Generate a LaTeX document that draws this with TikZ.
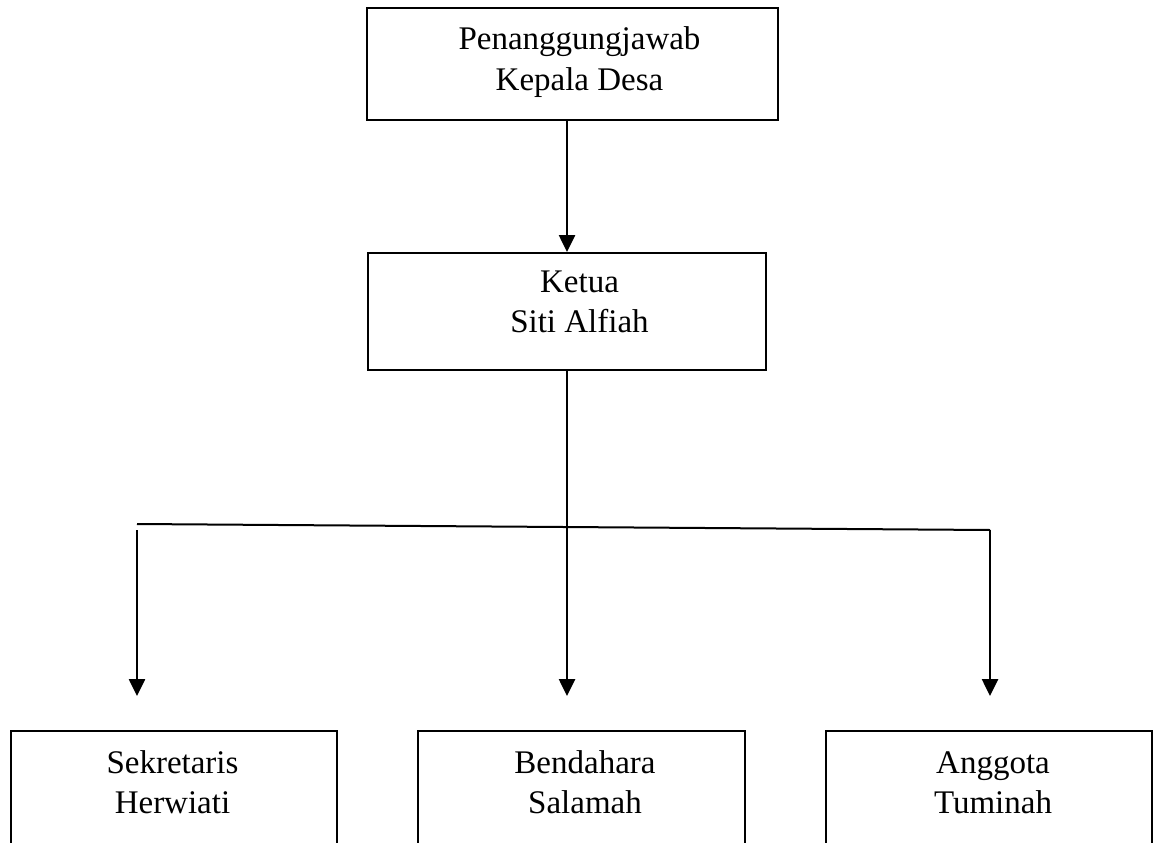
\documentclass[tikz,border=0pt]{standalone}
\usepackage{fontspec}
\setmainfont{Liberation Serif}
\usetikzlibrary{arrows.meta}
\begin{document}
\begin{tikzpicture}[x=1pt,y=-1pt,
    kotak/.style={draw, line width=2pt, inner sep=0pt},
    teks/.style={align=center, anchor=base, inner sep=0pt, font=\fontsize{33}{40}\selectfont},
    panah/.style={line width=2.6pt, -{Triangle[length=17pt,width=16pt]}}]
    \useasboundingbox (0,0) rectangle (1162,843);
    \clip (0,0) rectangle (1162,843);
    % Kotak atas dan ketua
    \node[kotak, minimum width=411pt, minimum height=112pt] (kades) at (572.5,64) {};
    \node[teks] (kades-t) at (579.5,90) {Penanggungjawab\\Kepala Desa};
    \node[kotak, minimum width=398pt, minimum height=117pt] (ketua) at (567,311.5) {};
    \node[teks] (ketua-t) at (579.5,332) {Ketua\\Siti Alfiah};
    % Kotak bawah (terpotong di tepi bawah)
    \node[kotak, minimum width=326pt, minimum height=160pt] (sekre) at (174,811) {};
    \node[teks] (sekre-t) at (172.5,813) {Sekretaris\\Herwiati};
    \node[kotak, minimum width=327pt, minimum height=160pt] (benda) at (581.5,811) {};
    \node[teks] (benda-t) at (585,813) {Bendahara\\Salamah};
    \node[kotak, minimum width=326pt, minimum height=160pt] (anggota) at (989,811) {};
    \node[teks] (anggota-t) at (993,813) {Anggota\\Tuminah};
    % Titik cabang
    \coordinate (cabangL) at (137,524);
    \coordinate (cabangR) at (990,530);
    \coordinate (turunL) at (137,530);
    % Garis penghubung
    \draw[panah] (kades.south -| ketua.north) -- (ketua.north);
    \draw[panah, shorten >=34pt] (ketua.south) -- (ketua.south |- benda.north);
    \draw[line width=2pt] (cabangL) -- (cabangR);
    \draw[panah, shorten >=34pt] (turunL) -- (turunL |- sekre.north);
    \draw[panah, shorten >=34pt] (cabangR) -- (cabangR |- anggota.north);
\end{tikzpicture}
\end{document}
